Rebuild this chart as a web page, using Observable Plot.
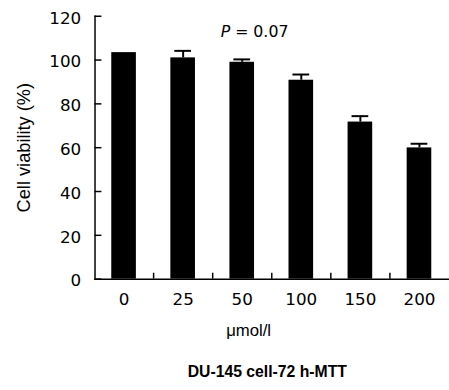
<!DOCTYPE html>
<html>
<head>
<meta charset="utf-8">
<script src="https://cdn.jsdelivr.net/npm/d3@7"></script>
<script src="https://cdn.jsdelivr.net/npm/@observablehq/plot@0.6"></script>
<style>
  html, body { margin: 0; padding: 0; background: #fff; overflow: hidden; }
  #chart { width: 449px; height: 390px; overflow: hidden; }
</style>
</head>
<body>
<div id="chart"></div>
<script>
const doses = ["0", "25", "50", "100", "150", "200"];
const viability = [103.4, 101, 99, 90.8, 71.7, 59.9];
const sd = [0, 3.2, 1.3, 2.6, 2.7, 1.9];
const yTicks = [0, 20, 40, 60, 80, 100, 120];
const yLabel = "Cell viability (%)";
const xLabel = "\u03bcmol/l";
const caption = "DU-145 cell-72 h-MTT";
const pLabel = "P = 0.07";

const data = doses.map((d, i) => ({dose: d, value: viability[i], sd: sd[i]}));

const W = 456, H = 390, ML = 96, MR = 0, MT = 16, MB = 107;
const step = (W - ML - MR) / doses.length;

const chart = Plot.plot({
  width: W,
  height: H,
  marginLeft: ML,
  marginRight: MR,
  marginTop: MT,
  marginBottom: MB,
  style: {background: "#fff", color: "#000", fontFamily: "DejaVu Sans, Verdana, sans-serif"},
  x: {domain: doses, paddingInner: 0.58, paddingOuter: 0.29, axis: null},
  y: {domain: [0, 120], axis: null},
  marks: [
    Plot.barY(data, {x: "dose", y: "value", fill: "#000"}),
    Plot.ruleX(data.filter(d => d.sd > 0), {x: "dose", y1: "value", y2: d => d.value + d.sd, stroke: "#000", strokeWidth: 2}),
    Plot.tickY(data.filter(d => d.sd > 0), {x: "dose", y: d => d.value + d.sd, stroke: "#000", strokeWidth: 2, insetLeft: 4, insetRight: 4}),
    Plot.frame({anchor: "left", stroke: "#000", strokeWidth: 1.5}),
    Plot.frame({anchor: "bottom", stroke: "#000", strokeWidth: 1.5}),
    Plot.axisY({ticks: yTicks, tickSize: -7, text: null, label: null, strokeWidth: 1.5}),
    Plot.axisY({ticks: yTicks, tickSize: 0, tickPadding: 14, dy: 2, fontSize: 17, label: null}),
    Plot.axisY({ticks: [], tickSize: 0, label: yLabel, labelAnchor: "center", labelArrow: "none", labelOffset: 79, fontSize: 18.5, fontFamily: "Liberation Sans, Arial, sans-serif"}),
    Plot.ruleX(doses.slice(1), {x: d => d, dx: -step / 2, y1: 0, y2: 2.7, stroke: "#000", strokeWidth: 1.5}),
    Plot.axisX({tickSize: 0, tickPadding: 14, fontSize: 17, label: null}),
    Plot.text([xLabel], {frameAnchor: "bottom", text: d => d, dx: -24, dy: 52, fontSize: 17, fontFamily: "Liberation Sans, Arial, sans-serif", lineAnchor: "middle"}),
    Plot.text([caption], {frameAnchor: "bottom", text: d => d, dx: -5, dy: 94, fontSize: 16, fontWeight: "bold", fontFamily: "Liberation Sans, Arial, sans-serif", lineAnchor: "middle"}),
    Plot.text([pLabel], {frameAnchor: "top", text: d => d, dx: -18, dy: 16, fontSize: 16, lineAnchor: "middle"})
  ]
});
document.getElementById("chart").appendChild(chart);

// italicise the P
d3.select(chart).selectAll("text").each(function() {
  const t = d3.select(this);
  if (t.text() === pLabel) {
    t.text(null);
    t.append("tspan").attr("font-style", "italic").text("P");
    t.append("tspan").text(pLabel.slice(1));
  }
});
</script>
</body>
</html>
